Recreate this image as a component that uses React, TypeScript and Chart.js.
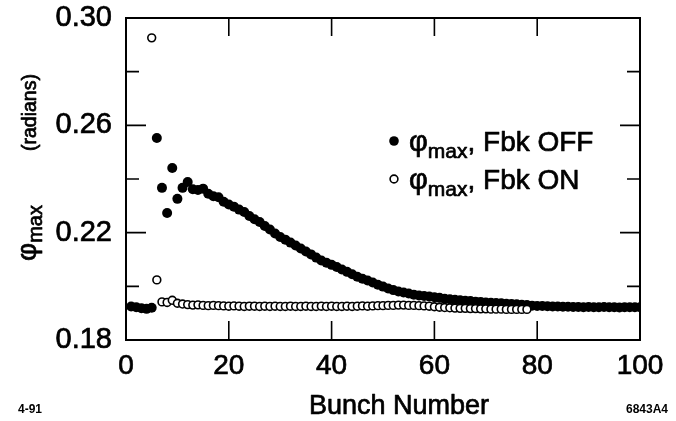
import React, { useEffect, useRef } from "react";
import { Chart, registerables } from "chart.js";

Chart.register(...registerables);

// Fbk OFF (filled circles), bunches 1..100
const offStartBunch = 1;
const offValues = [
  0.1925, 0.1922, 0.1918, 0.1916, 0.192, 0.2553, 0.2367, 0.2273, 0.2441, 0.2326,
  0.2367, 0.2389, 0.2362, 0.2359, 0.2364, 0.2345, 0.2336, 0.2332, 0.2315, 0.2305,
  0.2297, 0.2286, 0.2277, 0.2262, 0.225, 0.224, 0.2225, 0.2212, 0.2197, 0.2184,
  0.2174, 0.2163, 0.2152, 0.2141, 0.213, 0.2119, 0.2107, 0.2096, 0.2088, 0.208,
  0.2072, 0.2063, 0.2054, 0.2045, 0.2036, 0.2028, 0.2022, 0.2014, 0.2006, 0.1999,
  0.1992, 0.1986, 0.1981, 0.1977, 0.1973, 0.1969, 0.1966, 0.1964, 0.1962, 0.1959,
  0.1957, 0.1954, 0.1952, 0.195, 0.1948, 0.1946, 0.1945, 0.1943, 0.1942, 0.194,
  0.1939, 0.1938, 0.1937, 0.1935, 0.1934, 0.1933, 0.1931, 0.193, 0.1928, 0.1927,
  0.1927, 0.1926, 0.1925, 0.1925, 0.1924, 0.1924, 0.1923, 0.1923, 0.1922, 0.1923,
  0.1922, 0.1922, 0.1923, 0.1922, 0.1922, 0.1921, 0.1922, 0.1922, 0.1922, 0.1922,
];

// Fbk ON (open circles), bunches 5..78
const onStartBunch = 5;
const onValues = [
  0.2926, 0.2024, 0.1942, 0.194, 0.1948, 0.1937, 0.1934, 0.1932, 0.193, 0.1931,
  0.1929, 0.1928, 0.1929, 0.1928, 0.1927, 0.1926, 0.1927, 0.1926, 0.1925, 0.1926,
  0.1926, 0.1925, 0.1926, 0.1925, 0.1926, 0.1925, 0.1925, 0.1926, 0.1925, 0.1925,
  0.1926, 0.1925, 0.1925, 0.1926, 0.1925, 0.1926, 0.1925, 0.1925, 0.1926, 0.1925,
  0.1926, 0.1927, 0.1926, 0.1927, 0.1928, 0.1928, 0.1929, 0.1929, 0.193, 0.193,
  0.1929, 0.1929, 0.1928, 0.1927, 0.1926, 0.1924, 0.1922, 0.1921, 0.192, 0.1919,
  0.1918, 0.1918, 0.1917, 0.1917, 0.1916, 0.1916, 0.1915, 0.1915, 0.1915, 0.1914,
  0.1914, 0.1914, 0.1914, 0.1914,
];

const xTickValues = [0, 20, 40, 60, 80, 100];
const yTickValues = [0.18, 0.22, 0.26, 0.3];
const yMinorTickValues = [0.2, 0.24, 0.28];

const xTitle = "Bunch Number";
const yTitleSymbol = "φ";
const yTitleSub = "max";
const yTitleUnit = "(radians)";
const legendOff = ", Fbk OFF";
const legendOn = ", Fbk ON";
const leftNote = "4-91";
const rightNote = "6843A4";

const FONT = "'Liberation Sans', Arial, Helvetica, sans-serif";
const INK = 0.7;

function txt(ctx: CanvasRenderingContext2D, s: string, x: number, y: number) {
  ctx.fillText(s, x, y);
  ctx.strokeText(s, x, y);
}

const decorPlugin = {
  id: "decor",
  afterDraw(chart: any) {
    const ctx = chart.ctx as CanvasRenderingContext2D;
    const area = chart.chartArea;
    const xs = chart.scales.x;
    const ys = chart.scales.y;
    ctx.save();
    ctx.strokeStyle = "#000";
    ctx.fillStyle = "#000";
    // frame
    ctx.lineWidth = 2;
    ctx.strokeRect(area.left, area.top, area.right - area.left, area.bottom - area.top);
    // inward ticks
    ctx.lineWidth = 1.6;
    ctx.beginPath();
    for (const v of xTickValues) {
      const px = xs.getPixelForValue(v);
      ctx.moveTo(px, area.bottom);
      ctx.lineTo(px, area.bottom - 19);
      ctx.moveTo(px, area.top);
      ctx.lineTo(px, area.top + 18);
    }
    for (const v of yTickValues) {
      const py = ys.getPixelForValue(v);
      ctx.moveTo(area.left, py);
      ctx.lineTo(area.left + 20, py);
      ctx.moveTo(area.right, py);
      ctx.lineTo(area.right - 20, py);
    }
    for (const v of yMinorTickValues) {
      const py = ys.getPixelForValue(v);
      ctx.moveTo(area.left, py);
      ctx.lineTo(area.left + 13, py);
      ctx.moveTo(area.right, py);
      ctx.lineTo(area.right - 13, py);
    }
    ctx.stroke();

    ctx.lineWidth = INK;
    ctx.lineJoin = "round";
    // x title
    ctx.font = `27px ${FONT}`;
    ctx.textAlign = "center";
    ctx.textBaseline = "alphabetic";
    txt(ctx, xTitle, 399, 414);

    // notes
    ctx.font = `bold 12px ${FONT}`;
    ctx.textAlign = "left";
    ctx.fillText(leftNote, 18, 413);
    ctx.textAlign = "right";
    ctx.fillText(rightNote, 668, 413);

    // y title (rotated)
    ctx.save();
    ctx.translate(36, 261);
    ctx.rotate(-Math.PI / 2);
    ctx.textAlign = "left";
    ctx.font = `28px ${FONT}`;
    txt(ctx, yTitleSymbol, 0, 0);
    const phw = ctx.measureText(yTitleSymbol).width;
    ctx.font = `20px ${FONT}`;
    txt(ctx, yTitleSub, phw, 6);
    ctx.font = `19.5px ${FONT}`;
    txt(ctx, yTitleUnit, 110, 0);
    ctx.restore();

    // legend
    const rows = [
      { y: 151, text: legendOff, filled: true },
      { y: 189, text: legendOn, filled: false },
    ];
    for (const r of rows) {
      ctx.beginPath();
      if (r.filled) {
        ctx.arc(394, r.y - 10, 4.8, 0, Math.PI * 2);
        ctx.fill();
      } else {
        ctx.lineWidth = 1.6;
        ctx.arc(394, r.y - 10, 3.9, 0, Math.PI * 2);
        ctx.stroke();
      }
      ctx.lineWidth = INK;
      let x = 409;
      ctx.textAlign = "left";
      ctx.font = `29px ${FONT}`;
      txt(ctx, yTitleSymbol, x, r.y);
      x += ctx.measureText(yTitleSymbol).width;
      ctx.font = `21px ${FONT}`;
      txt(ctx, yTitleSub, x, r.y + 7);
      x += ctx.measureText(yTitleSub).width;
      ctx.font = `28px ${FONT}`;
      txt(ctx, r.text, x, r.y);
    }
    ctx.restore();
  },
};

export default function App() {
  const ref = useRef<HTMLCanvasElement | null>(null);
  useEffect(() => {
    document.body.style.margin = "0";
    if (!ref.current) return;
    const offData = offValues.map((v, i) => ({ x: offStartBunch + i, y: v }));
    const onData = onValues.map((v, i) => ({ x: onStartBunch + i, y: v }));
    const chart = new Chart(ref.current, {
      type: "scatter",
      data: {
        datasets: [
          {
            label: "Fbk ON",
            data: onData,
            order: 0,
            pointRadius: 3.9,
            pointBackgroundColor: "#fff",
            pointBorderColor: "#000",
            pointBorderWidth: 1.6,
          },
          {
            label: "Fbk OFF",
            data: offData,
            order: 1,
            pointRadius: 5,
            pointBackgroundColor: "#000",
            pointBorderColor: "#000",
            pointBorderWidth: 0,
          },
        ],
      },
      options: {
        animation: false,
        responsive: true,
        maintainAspectRatio: false,
        layout: { padding: { top: 18, right: 36, left: 0, bottom: 0 } },
        plugins: { legend: { display: false }, tooltip: { enabled: false } },
        scales: {
          x: {
            type: "linear",
            min: 0,
            max: 100,
            grid: { display: false, drawTicks: false },
            border: { display: false },
            ticks: {
              stepSize: 20,
              padding: 9,
              color: "#000",
              font: { family: FONT, size: 28 },
              textStrokeColor: "#000",
              textStrokeWidth: INK,
              maxRotation: 0,
            },
            afterFit: (s: any) => {
              s.height = 81;
              s.paddingLeft = 0;
              s.paddingRight = 0;
            },
          },
          y: {
            type: "linear",
            min: 0.18,
            max: 0.3,
            grid: { display: false, drawTicks: false },
            border: { display: false },
            ticks: {
              stepSize: 0.04,
              padding: 14,
              color: "#000",
              font: { family: FONT, size: 29 },
              textStrokeColor: "#000",
              textStrokeWidth: INK,
              callback: (v: any) => Number(v).toFixed(2),
            },
            afterFit: (s: any) => {
              s.width = 126;
              s.paddingTop = 0;
              s.paddingBottom = 0;
            },
          },
        },
      },
      plugins: [decorPlugin],
    });
    return () => chart.destroy();
  }, []);
  return (
    <div style={{ position: "relative", width: 676, height: 421 }}>
      <canvas ref={ref} />
    </div>
  );
}
